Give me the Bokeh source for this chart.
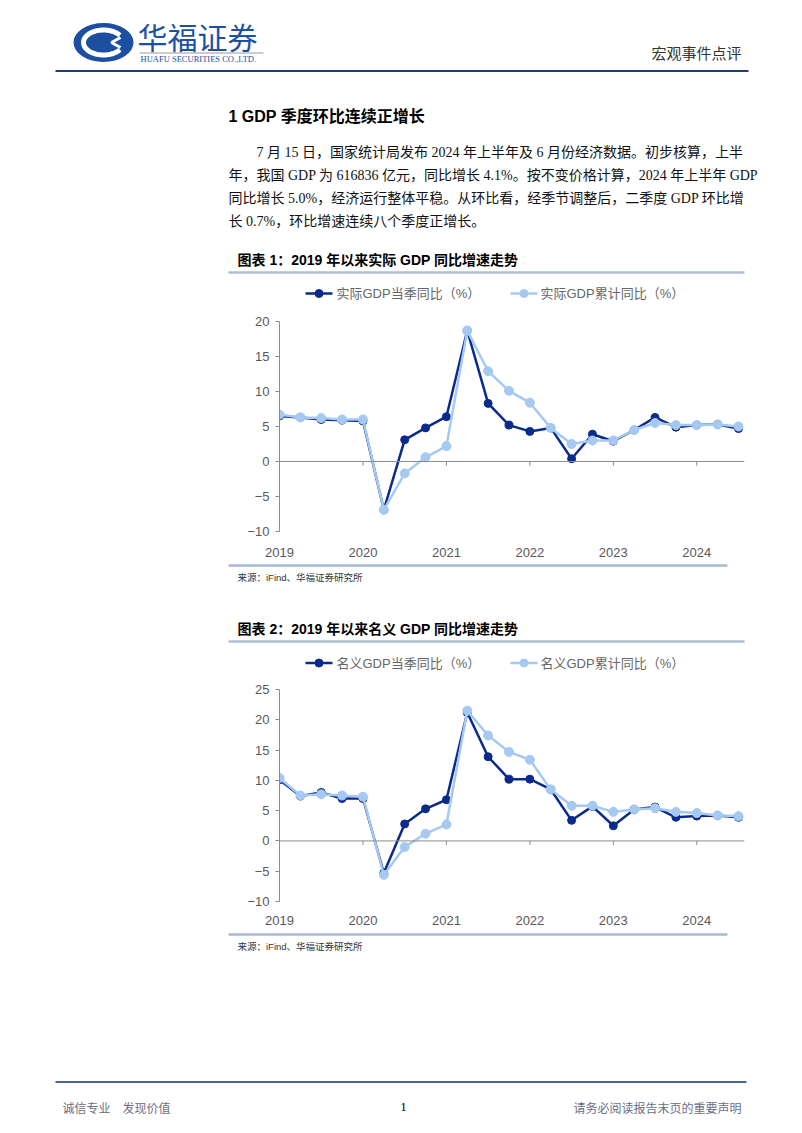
import numpy as np
from bokeh.plotting import figure
from bokeh.models import Range1d, FixedTicker, Span
from bokeh.embed import file_html
from bokeh.resources import INLINE
from bokeh.core.properties import value

# ---------------- data ----------------
quarters = ["2018Q4", "2019Q1", "2019Q2", "2019Q3", "2019Q4", "2020Q1", "2020Q2", "2020Q3",
            "2020Q4", "2021Q1", "2021Q2", "2021Q3", "2021Q4", "2022Q1", "2022Q2", "2022Q3",
            "2022Q4", "2023Q1", "2023Q2", "2023Q3", "2023Q4", "2024Q1", "2024Q2"]
real_q = [6.5, 6.3, 6.0, 5.9, 5.8, -6.9, 3.1, 4.8, 6.4, 18.7, 8.3, 5.2, 4.3, 4.8, 0.4, 3.9,
          2.9, 4.5, 6.3, 4.9, 5.2, 5.3, 4.7]
real_c = [6.7, 6.3, 6.2, 6.0, 6.0, -6.9, -1.7, 0.6, 2.2, 18.7, 12.9, 10.1, 8.4, 4.8, 2.5, 3.0,
          3.0, 4.5, 5.5, 5.2, 5.2, 5.3, 5.0]
nom_q = [10.1, 7.4, 8.0, 7.0, 7.0, -5.3, 2.8, 5.3, 6.8, 21.2, 13.9, 10.2, 10.2, 8.5, 3.4, 5.7,
         2.5, 5.2, 5.6, 3.9, 4.1, 4.2, 3.9]
nom_c = [10.4, 7.5, 7.7, 7.5, 7.3, -5.6, -1.0, 1.2, 2.7, 21.5, 17.4, 14.7, 13.4, 8.5, 5.8, 5.8,
         4.8, 5.2, 5.4, 4.8, 4.6, 4.2, 4.1]
year_ticks = [0, 4, 8, 12, 16, 20]
year_labels = ["2019", "2020", "2021", "2022", "2023", "2024"]
y1_ticks = [-10, -5, 0, 5, 10, 15, 20]
y2_ticks = [-10, -5, 0, 5, 10, 15, 20, 25]

series_names_1 = ["实际GDP当季同比（%）", "实际GDP累计同比（%）"]
series_names_2 = ["名义GDP当季同比（%）", "名义GDP累计同比（%）"]

DARK = "#0b2b8c"
LIGHT = "#a6c9f2"
W = 802
SANS = "'Liberation Sans', 'Noto Sans CJK SC'"
SERIF = "'Liberation Serif', 'Noto Sans CJK SC'"
CJK = "Noto Sans CJK SC"


def deco(h):
    p = figure(width=W, height=h, x_range=Range1d(0, W), y_range=Range1d(h, 0),
               min_border=0, x_axis_location=None, y_axis_location=None,
               output_backend="svg", toolbar_location=None)
    p.outline_line_color = None
    p.xgrid.visible = False
    p.ygrid.visible = False
    p.border_fill_color = "white"
    p.background_fill_color = "white"
    return p


def txt(p, top, x, y, s, size, color="#000000", font=SANS, style="normal", align="left"):
    p.text(x=[x], y=[y - top], text=[s], text_font_size=f"{size}px", text_color=color,
           text_font=value(font), text_font_style=style, text_align=align,
           text_baseline="middle")


def hline(p, top, x0, x1, y, color, width):
    p.line(x=[x0, x1], y=[y - top, y - top], line_color=color, line_width=width)


def legend(p, top, y, names):
    p.line(x=[305, 332], y=[y - top, y - top], line_color=DARK, line_width=2.5)
    p.scatter(x=[318.5], y=[y - top], size=8, fill_color=DARK, line_color=DARK)
    txt(p, top, 336, y, names[0], 13, "#666666", SANS)
    p.line(x=[510, 537], y=[y - top, y - top], line_color=LIGHT, line_width=2.5)
    p.scatter(x=[523.5], y=[y - top], size=8, fill_color=LIGHT, line_color=LIGHT)
    txt(p, top, 540, y, names[1], 13, "#666666", SANS)


def chart(qv, cv, yr, yticks, top_b, frame_h, bot_b, standoff, tick_len):
    xr_end = 465 / 20.864
    p = figure(frame_width=465, frame_height=frame_h, min_border_left=279, min_border_right=58,
               min_border_top=top_b, min_border_bottom=bot_b,
               x_range=Range1d(0, xr_end), y_range=Range1d(*yr),
               output_backend="svg", toolbar_location=None)
    p.outline_line_color = None
    p.xgrid.visible = False
    p.ygrid.visible = False
    p.border_fill_color = "white"
    p.yaxis.ticker = FixedTicker(ticks=yticks)
    p.yaxis.axis_line_color = "#8c8c8c"
    p.yaxis.major_tick_line_color = "#8c8c8c"
    p.yaxis.major_tick_out = 4
    p.yaxis.major_tick_in = 0
    p.yaxis.minor_tick_line_color = None
    p.yaxis.major_label_standoff = 6
    p.yaxis.major_label_text_font = "Liberation Sans"
    p.yaxis.major_label_text_font_size = "13px"
    p.yaxis.major_label_text_color = "#595959"
    p.xaxis.ticker = FixedTicker(ticks=year_ticks)
    p.xaxis.major_label_overrides = {t: l for t, l in zip(year_ticks, year_labels)}
    p.xaxis.axis_line_color = None
    p.xaxis.major_tick_line_color = None
    p.xaxis.minor_tick_line_color = None
    p.xaxis.major_label_standoff = standoff
    p.xaxis.major_label_text_font = "Liberation Sans"
    p.xaxis.major_label_text_font_size = "13px"
    p.xaxis.major_label_text_color = "#595959"
    p.add_layout(Span(location=0, dimension="width", line_color="#8c8c8c", line_width=1))
    p.segment(x0=year_ticks[1:], y0=[0] * 5, x1=year_ticks[1:], y1=[-tick_len] * 5,
              line_color="#8c8c8c", line_width=1)
    x = list(range(len(quarters)))
    p.line(x, qv, line_color=DARK, line_width=2.5)
    p.scatter(x, qv, size=8, fill_color=DARK, line_color=DARK)
    p.line(x, cv, line_color=LIGHT, line_width=2.5)
    p.scatter(x, cv, size=9, fill_color=LIGHT, line_color=LIGHT)
    return p


# ---------------- top block (page y 0 -> 305) ----------------
TA = 0
A = deco(305)
cx, cy = 103, 42
A.ellipse(x=[cx], y=[cy], width=60, height=39, fill_color="#1c4fa1", line_color=None)
t = np.linspace(np.radians(35), np.radians(325), 60)
A.line(x=cx + 20 * np.cos(t), y=cy - 12.5 * np.sin(t), line_color="white", line_width=5)
A.patch(x=[cx + 2, cx + 12, cx + 22, cx + 12], y=[cy, cy - 7, cy, cy + 7],
        fill_color="#1c4fa1", line_color=None)
A.line(x=[cx + 17, cx + 8, cx + 17], y=[cy - 5, cy, cy + 5], line_color="white", line_width=3)
txt(A, TA, 137, 35, "华福证券", 30, "#1d50a2", CJK)
hline(A, TA, 139, 263, 52.5, "#9a9a9a", 1)
txt(A, TA, 140, 58, "HUAFU SECURITIES CO.,LTD.", 8.5, "#1d50a2", "Liberation Serif")
txt(A, TA, 741, 52, "宏观事件点评", 15, "#333333", CJK, align="right")
hline(A, TA, 55, 748, 70.5, "#1f3d7a", 2)

txt(A, TA, 228, 116, "1 GDP 季度环比连续正增长", 16, "#000000", SANS, "bold")
para = [
    (256, "7 月 15 日，国家统计局发布 2024 年上半年及 6 月份经济数据。初步核算，上半"),
    (228, "年，我国 GDP 为 616836 亿元，同比增长 4.1%。按不变价格计算，2024 年上半年 GDP"),
    (228, "同比增长 5.0%，经济运行整体平稳。从环比看，经季节调整后，二季度 GDP 环比增"),
    (228, "长 0.7%，环比增速连续八个季度正增长。"),
]
for i, (x0, s) in enumerate(para):
    txt(A, TA, x0, 152 + 23 * i, s, 14, "#111111", SERIF)

txt(A, TA, 237, 259.5, "图表 1：2019 年以来实际 GDP 同比增速走势", 14, "#000000", SANS, "bold")
hline(A, TA, 228, 744, 272, "#b0bfd3", 2.5)
legend(A, TA, 293, series_names_1)

# ---------------- chart 1 (page y 305 -> 560) ----------------
C1 = chart(real_q, real_c, (-10, 20), y1_ticks, 16, 210, 29, 10, 0.6)

# ---------------- middle block (page y 560 -> 680) ----------------
TB = 560
B = deco(120)
hline(B, TB, 228, 727, 565, "#a9b9cf", 2.5)
txt(B, TB, 237, 576.5, "来源：iFind、华福证券研究所", 9.5, "#333333", SANS)
txt(B, TB, 237, 628.5, "图表 2：2019 年以来名义 GDP 同比增速走势", 14, "#000000", SANS, "bold")
hline(B, TB, 228, 744, 641, "#b0bfd3", 2.5)
legend(B, TB, 662.5, series_names_2)

# ---------------- chart 2 (page y 680 -> 929) ----------------
C2 = chart(nom_q, nom_c, (-10, 25), y2_ticks, 9, 212, 28, 8, 0.66)

# ---------------- bottom block (page y 929 -> 1133) ----------------
TD = 929
D = deco(204)
hline(D, TD, 228, 727, 934, "#a9b9cf", 2.5)
txt(D, TD, 237, 946, "来源：iFind、华福证券研究所", 9.5, "#333333", SANS)
hline(D, TD, 55, 746, 1081.5, "#4a6590", 2)
txt(D, TD, 62, 1106.5, "诚信专业\u3000发现价值", 12, "#6d6d85", CJK)
txt(D, TD, 403, 1106.5, "1", 13, "#000000", "Liberation Serif", align="center")
txt(D, TD, 741, 1106.5, "请务必阅读报告末页的重要声明", 12, "#6d6d85", CJK, align="right")

open("out.html", "w").write(file_html([A, C1, B, C2, D], INLINE))
